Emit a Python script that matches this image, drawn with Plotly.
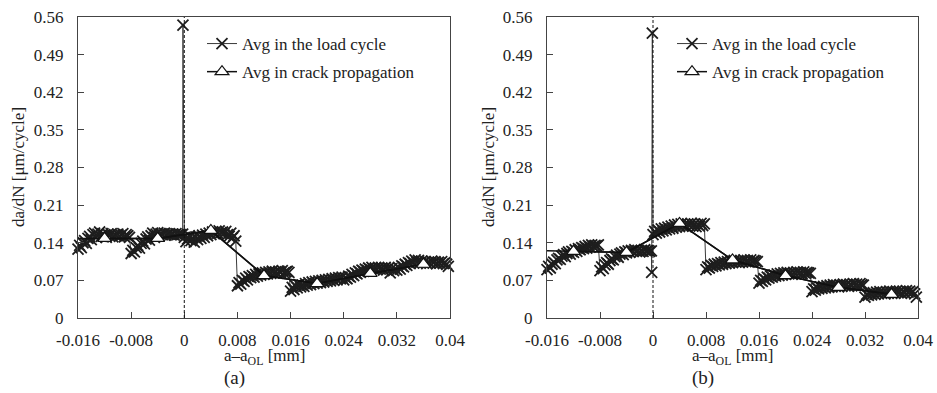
import plotly.graph_objects as go

# Crack-tip positions relative to the overload point (mm), shared by both specimens
crack_x = [
    -0.01600, -0.01575, -0.01550, -0.01525, -0.01500, -0.01475, -0.01450, -0.01425,
    -0.01400, -0.01375, -0.01350, -0.01325, -0.01300, -0.01275, -0.01250, -0.01225,
    -0.01200, -0.01175, -0.01150, -0.01125, -0.01100, -0.01075, -0.01050, -0.01025,
    -0.01000, -0.00975, -0.00950, -0.00925, -0.00900, -0.00875, -0.00850, -0.00825,
    -0.00800, -0.00775, -0.00750, -0.00725, -0.00700, -0.00675, -0.00650, -0.00625,
    -0.00600, -0.00575, -0.00550, -0.00525, -0.00500, -0.00475, -0.00450, -0.00425,
    -0.00400, -0.00375, -0.00350, -0.00325, -0.00300, -0.00275, -0.00250, -0.00225,
    -0.00200, -0.00175, -0.00150, -0.00125, -0.00100, -0.00075, -0.00050, -0.00025,
    0.00000, 0.00025, 0.00050, 0.00075, 0.00100, 0.00125, 0.00150, 0.00175,
    0.00200, 0.00225, 0.00250, 0.00275, 0.00300, 0.00325, 0.00350, 0.00375,
    0.00400, 0.00425, 0.00450, 0.00475, 0.00500, 0.00525, 0.00550, 0.00575,
    0.00600, 0.00625, 0.00650, 0.00675, 0.00700, 0.00725, 0.00750, 0.00775,
    0.00800, 0.00825, 0.00850, 0.00875, 0.00900, 0.00925, 0.00950, 0.00975,
    0.01000, 0.01025, 0.01050, 0.01075, 0.01100, 0.01125, 0.01150, 0.01175,
    0.01200, 0.01225, 0.01250, 0.01275, 0.01300, 0.01325, 0.01350, 0.01375,
    0.01400, 0.01425, 0.01450, 0.01475, 0.01500, 0.01525, 0.01550, 0.01575,
    0.01600, 0.01625, 0.01650, 0.01675, 0.01700, 0.01725, 0.01750, 0.01775,
    0.01800, 0.01825, 0.01850, 0.01875, 0.01900, 0.01925, 0.01950, 0.01975,
    0.02000, 0.02025, 0.02050, 0.02075, 0.02100, 0.02125, 0.02150, 0.02175,
    0.02200, 0.02225, 0.02250, 0.02275, 0.02300, 0.02325, 0.02350, 0.02375,
    0.02400, 0.02425, 0.02450, 0.02475, 0.02500, 0.02525, 0.02550, 0.02575,
    0.02600, 0.02625, 0.02650, 0.02675, 0.02700, 0.02725, 0.02750, 0.02775,
    0.02800, 0.02825, 0.02850, 0.02875, 0.02900, 0.02925, 0.02950, 0.02975,
    0.03000, 0.03025, 0.03050, 0.03075, 0.03100, 0.03125, 0.03150, 0.03175,
    0.03200, 0.03225, 0.03250, 0.03275, 0.03300, 0.03325, 0.03350, 0.03375,
    0.03400, 0.03425, 0.03450, 0.03475, 0.03500, 0.03525, 0.03550, 0.03575,
    0.03600, 0.03625, 0.03650, 0.03675, 0.03700, 0.03725, 0.03750, 0.03775,
    0.03800, 0.03825, 0.03850, 0.03875, 0.03900, 0.03925, 0.03950, 0.03975,
]

# da/dN averaged in each load cycle (um/cycle), specimen (a)
load_a = [
    0.128, 0.135, 0.131, 0.140, 0.144, 0.139, 0.148, 0.152,
    0.146, 0.155, 0.158, 0.150, 0.156, 0.160, 0.152, 0.157,
    0.154, 0.150, 0.156, 0.153, 0.157, 0.151, 0.155, 0.153,
    0.156, 0.152, 0.154, 0.157, 0.151, 0.155, 0.153, 0.150,
    0.120, 0.126, 0.123, 0.131, 0.135, 0.130, 0.139, 0.143,
    0.138, 0.147, 0.151, 0.145, 0.153, 0.158, 0.150, 0.156,
    0.159, 0.153, 0.157, 0.155, 0.158, 0.154, 0.156, 0.157,
    0.155, 0.156, 0.154, 0.157, 0.155, 0.156, 0.155, 0.156,
    0.150, 0.142, 0.147, 0.153, 0.144, 0.149, 0.141, 0.151,
    0.146, 0.152, 0.148, 0.154, 0.150, 0.156, 0.153, 0.158,
    0.155, 0.160, 0.157, 0.161, 0.158, 0.162, 0.159, 0.160,
    0.157, 0.161, 0.155, 0.152, 0.158, 0.149, 0.153, 0.143,
    0.060, 0.066, 0.063, 0.070, 0.068, 0.074, 0.071, 0.077,
    0.075, 0.079, 0.076, 0.081, 0.078, 0.082, 0.080, 0.084,
    0.081, 0.085, 0.082, 0.086, 0.083, 0.087, 0.084, 0.086,
    0.083, 0.087, 0.085, 0.088, 0.084, 0.086, 0.087, 0.085,
    0.050, 0.057, 0.053, 0.060, 0.056, 0.062, 0.058, 0.061,
    0.059, 0.064, 0.061, 0.066, 0.062, 0.067, 0.064, 0.068,
    0.065, 0.069, 0.066, 0.070, 0.067, 0.071, 0.068, 0.072,
    0.069, 0.073, 0.070, 0.074, 0.071, 0.075, 0.073, 0.076,
    0.071, 0.075, 0.073, 0.078, 0.076, 0.081, 0.079, 0.084,
    0.082, 0.087, 0.085, 0.089, 0.087, 0.091, 0.089, 0.093,
    0.090, 0.094, 0.091, 0.093, 0.090, 0.094, 0.091, 0.093,
    0.089, 0.094, 0.090, 0.093, 0.084, 0.092, 0.088, 0.091,
    0.089, 0.094, 0.091, 0.097, 0.095, 0.100, 0.098, 0.103,
    0.101, 0.106, 0.103, 0.108, 0.104, 0.107, 0.103, 0.106,
    0.102, 0.105, 0.101, 0.104, 0.102, 0.106, 0.103, 0.105,
    0.101, 0.104, 0.102, 0.105, 0.101, 0.103, 0.100, 0.096,
]

# da/dN averaged in each load cycle (um/cycle), specimen (b)
load_b = [
    0.090, 0.096, 0.093, 0.100, 0.104, 0.101, 0.108, 0.111,
    0.109, 0.115, 0.118, 0.114, 0.120, 0.123, 0.119, 0.124,
    0.122, 0.127, 0.124, 0.129, 0.127, 0.131, 0.129, 0.133,
    0.130, 0.135, 0.132, 0.136, 0.133, 0.135, 0.134, 0.136,
    0.088, 0.095, 0.092, 0.099, 0.103, 0.100, 0.107, 0.110,
    0.108, 0.114, 0.117, 0.113, 0.119, 0.121, 0.118, 0.123,
    0.121, 0.125, 0.122, 0.126, 0.124, 0.127, 0.124, 0.126,
    0.123, 0.126, 0.124, 0.127, 0.125, 0.126, 0.124, 0.125,
    0.155, 0.161, 0.158, 0.164, 0.160, 0.166, 0.162, 0.167,
    0.164, 0.169, 0.166, 0.171, 0.167, 0.173, 0.169, 0.174,
    0.170, 0.175, 0.171, 0.174, 0.170, 0.175, 0.172, 0.176,
    0.171, 0.175, 0.170, 0.174, 0.171, 0.176, 0.172, 0.175,
    0.090, 0.095, 0.093, 0.098, 0.096, 0.100, 0.097, 0.101,
    0.099, 0.103, 0.100, 0.104, 0.101, 0.105, 0.102, 0.106,
    0.103, 0.107, 0.104, 0.106, 0.103, 0.107, 0.104, 0.108,
    0.105, 0.107, 0.104, 0.108, 0.105, 0.107, 0.106, 0.105,
    0.065, 0.070, 0.068, 0.073, 0.071, 0.076, 0.074, 0.078,
    0.076, 0.080, 0.078, 0.082, 0.079, 0.083, 0.080, 0.084,
    0.081, 0.085, 0.082, 0.084, 0.081, 0.085, 0.082, 0.086,
    0.083, 0.085, 0.082, 0.086, 0.083, 0.085, 0.084, 0.083,
    0.049, 0.054, 0.052, 0.056, 0.054, 0.058, 0.055, 0.059,
    0.056, 0.060, 0.057, 0.061, 0.058, 0.062, 0.059, 0.061,
    0.058, 0.062, 0.059, 0.063, 0.060, 0.062, 0.059, 0.063,
    0.060, 0.064, 0.061, 0.063, 0.060, 0.064, 0.062, 0.061,
    0.039, 0.044, 0.042, 0.046, 0.043, 0.047, 0.044, 0.048,
    0.045, 0.049, 0.046, 0.048, 0.045, 0.049, 0.046, 0.050,
    0.047, 0.049, 0.046, 0.050, 0.047, 0.049, 0.046, 0.050,
    0.047, 0.051, 0.048, 0.050, 0.047, 0.049, 0.045, 0.039,
]

# Overload cycles recorded just before a - a_OL = 0
overload_x_a = [-0.0002]
overload_y_a = [0.545]
overload_x_b = [-0.0002, -0.0001]
overload_y_b = [0.085, 0.530]

# Averages over each crack-propagation interval
prop_x = [-0.016, -0.012, -0.004, 0.004, 0.012, 0.020, 0.028, 0.036]
prop_a = [0.148, 0.148, 0.148, 0.163, 0.079, 0.064, 0.083, 0.100]
prop_b = [0.125, 0.124, 0.122, 0.176, 0.108, 0.079, 0.057, 0.044]

x_ticks = [-0.016, -0.008, 0, 0.008, 0.016, 0.024, 0.032, 0.04]
x_tick_text = ["-0.016", "-0.008", "0", "0.008", "0.016", "0.024", "0.032", "0.04"]
y_ticks = [0, 0.07, 0.14, 0.21, 0.28, 0.35, 0.42, 0.49, 0.56]
y_tick_text = ["0", "0.07", "0.14", "0.21", "0.28", "0.35", "0.42", "0.49", "0.56"]

FONT = "Liberation Serif"
W, H = 937, 393
N_BEFORE = 64  # load cycles recorded before the overload


def px_x(p):
    return p / W


def px_y(p):
    return 1 - p / H


panels = [
    dict(load=load_a, ox=overload_x_a, oy=overload_y_a, prop=prop_a,
         xa="x", ya="y", legend="legend", cap="(a)"),
    dict(load=load_b, ox=overload_x_b, oy=overload_y_b, prop=prop_b,
         xa="x2", ya="y2", legend="legend2", cap="(b)"),
]

fig = go.Figure()

for p in panels:
    xs = crack_x[:N_BEFORE] + p["ox"] + crack_x[N_BEFORE:]
    ys = p["load"][:N_BEFORE] + p["oy"] + p["load"][N_BEFORE:]
    fig.add_trace(go.Scatter(
        x=xs, y=ys, mode="lines+markers", name="Avg in the load cycle",
        xaxis=p["xa"], yaxis=p["ya"], legend=p["legend"], legendgroup="load",
        line=dict(color="#3a3a3a", width=1),
        marker=dict(symbol="x-thin", size=11, color="#1e1e1e",
                    line=dict(width=1.8, color="#1e1e1e")),
        cliponaxis=False,
    ))
    # connecting line of the interval averages (runs from the left edge)
    fig.add_trace(go.Scatter(
        x=prop_x, y=p["prop"], mode="lines", showlegend=False,
        xaxis=p["xa"], yaxis=p["ya"],
        line=dict(color="#111", width=1.5),
    ))
    fig.add_trace(go.Scatter(
        x=prop_x[1:], y=p["prop"][1:], mode="lines+markers",
        name="Avg in crack propagation",
        xaxis=p["xa"], yaxis=p["ya"], legend=p["legend"], legendgroup="prop",
        line=dict(color="#111", width=1.5),
        marker=dict(symbol="triangle-up", size=12, color="white",
                    line=dict(width=1.2, color="#111")),
        cliponaxis=False,
    ))

axis_common = dict(
    showgrid=False, zeroline=False, showline=True, mirror=True,
    linecolor="#444", linewidth=1, ticks="inside", ticklen=6,
    tickcolor="#444", tickwidth=1, automargin=False,
    tickfont=dict(family=FONT, size=17, color="#222"),
)

x_dom_a = [px_x(78), px_x(450)]
x_dom_b = [px_x(547), px_x(918)]
y_dom = [px_y(318), px_y(17)]

fig.update_layout(
    width=W, height=H,
    margin=dict(l=0, r=0, t=0, b=0),
    paper_bgcolor="white", plot_bgcolor="white",
    font=dict(family=FONT, size=17, color="#222"),
    xaxis=dict(domain=x_dom_a, range=[-0.016, 0.04], anchor="y",
               tickvals=x_ticks, ticktext=x_tick_text, ticklabelstandoff=7,
               **axis_common),
    yaxis=dict(domain=y_dom, range=[0, 0.56], anchor="x",
               tickvals=y_ticks, ticktext=y_tick_text, ticklabelstandoff=10,
               **axis_common),
    xaxis2=dict(domain=x_dom_b, range=[-0.016, 0.04], anchor="y2",
                tickvals=x_ticks, ticktext=x_tick_text, ticklabelstandoff=7,
                **axis_common),
    yaxis2=dict(domain=y_dom, range=[0, 0.56], anchor="x2",
                tickvals=y_ticks, ticktext=y_tick_text, ticklabelstandoff=10,
                **axis_common),
    legend=dict(x=px_x(202), y=px_y(26), xanchor="left", yanchor="top",
                bgcolor="rgba(0,0,0,0)", tracegroupgap=3,
                font=dict(family=FONT, size=17, color="#222")),
    legend2=dict(x=px_x(672), y=px_y(26), xanchor="left", yanchor="top",
                 bgcolor="rgba(0,0,0,0)", tracegroupgap=3,
                 font=dict(family=FONT, size=17, color="#222")),
    showlegend=True,
)

# dashed marker of the overload position
for xa, ya in (("x", "y"), ("x2", "y2")):
    fig.add_shape(type="line", xref=xa, yref=ya, x0=0, x1=0, y0=0, y1=0.56,
                  line=dict(color="#111", width=1, dash="3px,2px"))

# axis titles and panel captions
centers = [(264, 18, 234), (732, 488, 703)]
for (cx, ty, capx), p in zip(centers, panels):
    fig.add_annotation(text="a\u2013a<sub>OL</sub> [mm]", xref="paper", yref="paper",
                       x=px_x(cx), y=px_y(357), xanchor="center", yanchor="middle",
                       showarrow=False,
                       font=dict(family=FONT, size=17, color="#222"))
    fig.add_annotation(text="da/dN [\u03bcm/cycle]", xref="paper", yref="paper",
                       x=px_x(ty), y=px_y(167), xanchor="center", yanchor="middle",
                       textangle=-90, showarrow=False,
                       font=dict(family=FONT, size=17, color="#222"))
    fig.add_annotation(text=p["cap"], xref="paper", yref="paper",
                       x=px_x(capx), y=px_y(378), xanchor="center", yanchor="middle",
                       showarrow=False,
                       font=dict(family=FONT, size=19, color="#222"))

fig.write_html("out.html")
